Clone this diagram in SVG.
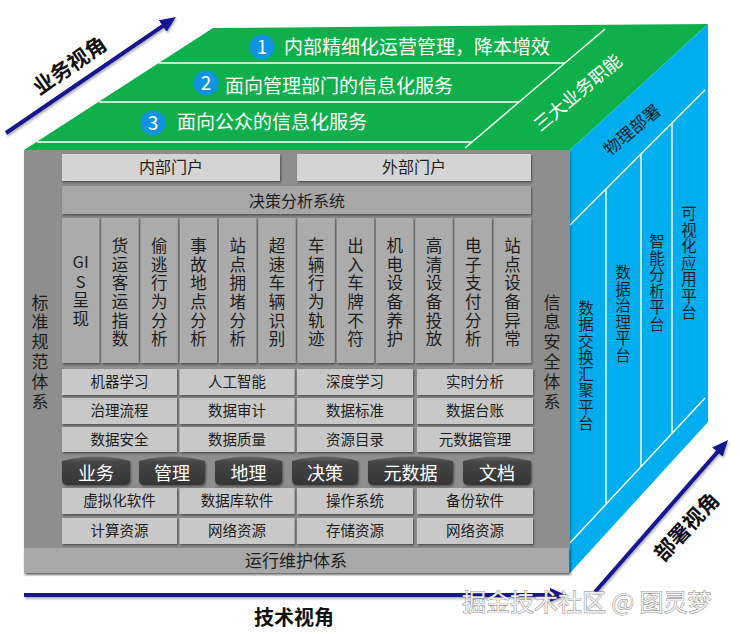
<svg xmlns="http://www.w3.org/2000/svg" width="740" height="634" viewBox="0 0 740 634">
<defs>
<style>
text{font-family:"Noto Sans CJK SC","Noto Sans",sans-serif;}
.c{text-anchor:middle;}
.v{writing-mode:vertical-rl;text-orientation:upright;text-anchor:middle;}
.wt{fill:#fff;}
.dk{fill:#1e1e1e;}
.tile{fill:#c8c8c8;filter:url(#sh);}
.ptile{fill:#d4d4d4;filter:url(#sh);}
.col{fill:#ababab;filter:url(#sh);}
.band{fill:#a7a7a7;filter:url(#sh);}
.cyl{fill:url(#cg);filter:url(#sh);}
.wl{stroke:#fff;stroke-width:1.4;fill:none;}
.arr{stroke:#14148f;stroke-width:4;fill:none;marker-end:url(#ah);}
.num{fill:#0f94e4;}
.f14{font-size:14.5px;}
.f16{font-size:16px;}
.ap{font-size:16.5px;letter-spacing:2.1px;}
.fr{font-size:15.5px;letter-spacing:1px;}
.side{font-size:17px;letter-spacing:2.8px;}
</style>
<filter id="sh" x="-10%" y="-10%" width="130%" height="140%">
<feDropShadow dx="1" dy="1.5" stdDeviation="0.8" flood-color="#000" flood-opacity="0.45"/>
</filter>
<filter id="ash" filterUnits="userSpaceOnUse" x="0" y="0" width="740" height="634">
<feDropShadow dx="1" dy="2" stdDeviation="1" flood-color="#000" flood-opacity="0.3"/>
</filter>
<linearGradient id="cg" x1="0" y1="0" x2="0" y2="1">
<stop offset="0" stop-color="#6a6a6a"/>
<stop offset="0.2" stop-color="#454545"/>
<stop offset="1" stop-color="#353535"/>
</linearGradient>
<marker id="ah" viewBox="0 0 16 14" refX="6" refY="7" markerWidth="16" markerHeight="14" orient="auto" markerUnits="userSpaceOnUse">
<path d="M0,0 L16,7 L0,14 Z" fill="#14148f"/>
</marker>
</defs>
<rect width="740" height="634" fill="#fff"/>

<!-- top face -->
<g id="top-face">
<polygon points="24,150 213,28 708,24 570,150" fill="#0fb04c"/>
<line class="wl" x1="159" y1="63" x2="565" y2="63"/>
<line class="wl" x1="99" y1="102" x2="519" y2="102"/>
<line class="wl" x1="37" y1="142" x2="472" y2="142"/>
<line class="wl" x1="605" y1="29" x2="465" y2="148"/>
</g>
<g id="goal-1">
<circle class="num" cx="262" cy="47" r="12.5"/>
<text class="c wt" x="262" y="54" font-size="19">1</text>
<text class="wt" x="284" y="54" font-size="19">内部精细化运营管理，降本增效</text>
</g>
<g id="goal-2">
<circle class="num" cx="206" cy="83" r="12.5"/>
<text class="c wt" x="206" y="90" font-size="19">2</text>
<text class="wt" x="225" y="93" font-size="19">面向管理部门的信息化服务</text>
</g>
<g id="goal-3">
<circle class="num" cx="153" cy="123" r="12.5"/>
<text class="c wt" x="153" y="130" font-size="19">3</text>
<text class="wt" x="177" y="129" font-size="19">面向公众的信息化服务</text>
</g>
<g id="three-functions">
<text class="c wt" font-size="18" transform="translate(578,93) rotate(-40)" y="6">三大业务职能</text>
</g>

<!-- right face -->
<g id="right-face">
<polygon points="570,150 708,24 708,422 570,573" fill="#00aeef"/>
<line class="wl" x1="705" y1="90" x2="570" y2="225"/>
<line class="wl" x1="606" y1="189" x2="606" y2="504"/>
<line class="wl" x1="641" y1="154" x2="641" y2="467"/>
<line class="wl" x1="672" y1="123" x2="672" y2="434"/>
<line class="wl" x1="705" y1="398" x2="568" y2="545"/>
<text class="c dk" font-size="17" transform="translate(632,130) rotate(-40)" y="6">物理部署</text>
</g>
<g id="platform-exchange"><text class="v dk fr" x="586" y="366">数据交换汇聚平台</text></g>
<g id="platform-governance"><text class="v dk fr" x="623" y="314">数据治理平台</text></g>
<g id="platform-analysis"><text class="v dk fr" x="657" y="283">智能分析平台</text></g>
<g id="platform-visual"><text class="v dk fr" x="689" y="263.5">可视化应用平台</text></g>

<!-- front face -->
<g id="front-face">
<rect x="24" y="150" width="546" height="423" fill="#8e8e8e" filter="url(#ash)"/>
</g>
<g id="standard-system"><text class="v dk side" x="40" y="353">标准规范体系</text></g>
<g id="security-system"><text class="v dk side" x="552" y="353">信息安全体系</text></g>
<g id="ops-system">
<rect x="24" y="548" width="545" height="25" fill="#a8a8a8" filter="url(#sh)"/>
<text class="c dk" font-size="17" x="296" y="566.5">运行维护体系</text>
</g>

<g id="portal-internal">
<rect class="ptile" x="62" y="154" width="218" height="27"/>
<text class="c dk f16" x="171" y="173">内部门户</text>
</g>
<g id="portal-external">
<rect class="ptile" x="297" y="154" width="234" height="27"/>
<text class="c dk f16" x="414" y="173">外部门户</text>
</g>
<g id="decision-system">
<rect class="band" x="62" y="186" width="469" height="28"/>
<text class="c dk f16" x="297" y="207">决策分析系统</text>
</g>

<g id="apps">
<g id="app-gis"><rect class="col" x="62" y="218" width="37.3" height="145"/>
<text class="c dk" font-size="16.5" x="80.65" y="267.5">GI</text>
<text class="v dk ap" x="80.65" y="301">S呈现</text></g>
<g id="app-2"><rect class="col" x="101.25" y="218" width="37.3" height="145"/><text class="v dk ap" x="119.9" y="293.5">货运客运指数</text></g>
<g id="app-3"><rect class="col" x="140.5" y="218" width="37.3" height="145"/><text class="v dk ap" x="159.15" y="293.5">偷逃行为分析</text></g>
<g id="app-4"><rect class="col" x="179.75" y="218" width="37.3" height="145"/><text class="v dk ap" x="198.4" y="293.5">事故地点分析</text></g>
<g id="app-5"><rect class="col" x="219" y="218" width="37.3" height="145"/><text class="v dk ap" x="237.65" y="293.5">站点拥堵分析</text></g>
<g id="app-6"><rect class="col" x="258.25" y="218" width="37.3" height="145"/><text class="v dk ap" x="276.9" y="293.5">超速车辆识别</text></g>
<g id="app-7"><rect class="col" x="297.5" y="218" width="37.3" height="145"/><text class="v dk ap" x="316.15" y="293.5">车辆行为轨迹</text></g>
<g id="app-8"><rect class="col" x="336.75" y="218" width="37.3" height="145"/><text class="v dk ap" x="355.4" y="293.5">出入车牌不符</text></g>
<g id="app-9"><rect class="col" x="376" y="218" width="37.3" height="145"/><text class="v dk ap" x="394.65" y="293.5">机电设备养护</text></g>
<g id="app-10"><rect class="col" x="415.25" y="218" width="37.3" height="145"/><text class="v dk ap" x="433.9" y="293.5">高清设备投放</text></g>
<g id="app-11"><rect class="col" x="454.5" y="218" width="37.3" height="145"/><text class="v dk ap" x="473.15" y="293.5">电子支付分析</text></g>
<g id="app-12"><rect class="col" x="493.75" y="218" width="37.3" height="145"/><text class="v dk ap" x="512.4" y="293.5">站点设备异常</text></g>
</g>

<g id="capabilities">
<g id="cap-ml"><rect class="tile" x="62" y="369" width="115" height="26"/><text class="c dk f14" x="119.5" y="387">机器学习</text></g>
<g id="cap-ai"><rect class="tile" x="179.5" y="369" width="115" height="26"/><text class="c dk f14" x="237" y="387">人工智能</text></g>
<g id="cap-dl"><rect class="tile" x="297" y="369" width="116" height="26"/><text class="c dk f14" x="355" y="387">深度学习</text></g>
<g id="cap-rt"><rect class="tile" x="417" y="369" width="116" height="26"/><text class="c dk f14" x="475" y="387">实时分析</text></g>
<g id="cap-flow"><rect class="tile" x="62" y="398" width="115" height="26"/><text class="c dk f14" x="119.5" y="416">治理流程</text></g>
<g id="cap-audit"><rect class="tile" x="179.5" y="398" width="115" height="26"/><text class="c dk f14" x="237" y="416">数据审计</text></g>
<g id="cap-std"><rect class="tile" x="297" y="398" width="116" height="26"/><text class="c dk f14" x="355" y="416">数据标准</text></g>
<g id="cap-ledger"><rect class="tile" x="417" y="398" width="116" height="26"/><text class="c dk f14" x="475" y="416">数据台账</text></g>
<g id="cap-sec"><rect class="tile" x="62" y="427" width="115" height="25"/><text class="c dk f14" x="119.5" y="444.5">数据安全</text></g>
<g id="cap-qual"><rect class="tile" x="179.5" y="427" width="115" height="25"/><text class="c dk f14" x="237" y="444.5">数据质量</text></g>
<g id="cap-cat"><rect class="tile" x="297" y="427" width="116" height="25"/><text class="c dk f14" x="355" y="444.5">资源目录</text></g>
<g id="cap-meta"><rect class="tile" x="417" y="427" width="116" height="25"/><text class="c dk f14" x="475" y="444.5">元数据管理</text></g>
</g>

<g id="databases">
<g id="db-biz"><path class="cyl" d="M62,461 Q96,452 130,461 L130,480 Q130,485 124,485 L68,485 Q62,485 62,480 Z"/><text class="c wt" font-size="18" x="96" y="480">业务</text></g>
<g id="db-mgmt"><path class="cyl" d="M139,461 Q172,452 205,461 L205,480 Q205,485 199,485 L145,485 Q139,485 139,480 Z"/><text class="c wt" font-size="18" x="172" y="480">管理</text></g>
<g id="db-geo"><path class="cyl" d="M215,461 Q248.5,452 282,461 L282,480 Q282,485 276,485 L221,485 Q215,485 215,480 Z"/><text class="c wt" font-size="18" x="248.5" y="480">地理</text></g>
<g id="db-dec"><path class="cyl" d="M292,461 Q325,452 358,461 L358,480 Q358,485 352,485 L298,485 Q292,485 292,480 Z"/><text class="c wt" font-size="18" x="325" y="480">决策</text></g>
<g id="db-meta"><path class="cyl" d="M368,461 Q410.5,452 453,461 L453,480 Q453,485 447,485 L374,485 Q368,485 368,480 Z"/><text class="c wt" font-size="18" x="410.5" y="480">元数据</text></g>
<g id="db-doc"><path class="cyl" d="M463,461 Q497,452 531,461 L531,480 Q531,485 525,485 L469,485 Q463,485 463,480 Z"/><text class="c wt" font-size="18" x="497" y="480">文档</text></g>
</g>

<g id="infrastructure">
<g id="sw-virt"><rect class="tile" x="62" y="488" width="115" height="26"/><text class="c dk f14" x="119.5" y="506">虚拟化软件</text></g>
<g id="sw-db"><rect class="tile" x="179.5" y="488" width="115" height="26"/><text class="c dk f14" x="237" y="506">数据库软件</text></g>
<g id="sw-os"><rect class="tile" x="297" y="488" width="116" height="26"/><text class="c dk f14" x="355" y="506">操作系统</text></g>
<g id="sw-bak"><rect class="tile" x="417" y="488" width="116" height="26"/><text class="c dk f14" x="475" y="506">备份软件</text></g>
<g id="res-cpu"><rect class="tile" x="62" y="518" width="115" height="26"/><text class="c dk f14" x="119.5" y="536">计算资源</text></g>
<g id="res-net1"><rect class="tile" x="179.5" y="518" width="115" height="26"/><text class="c dk f14" x="237" y="536">网络资源</text></g>
<g id="res-sto"><rect class="tile" x="297" y="518" width="116" height="26"/><text class="c dk f14" x="355" y="536">存储资源</text></g>
<g id="res-net2"><rect class="tile" x="417" y="518" width="116" height="26"/><text class="c dk f14" x="475" y="536">网络资源</text></g>
</g>

<g id="connectors" filter="url(#ash)">
<line class="arr" x1="6" y1="133" x2="167.7" y2="22.6"/>
<line class="arr" x1="24" y1="595" x2="556" y2="595"/>
<line class="arr" x1="595" y1="592" x2="721.4" y2="447.5"/>
</g>
<g id="label-business">
<text class="c" font-size="21" font-weight="bold" fill="#111" transform="translate(70,66) rotate(-35)" y="7">业务视角</text>
</g>
<g id="label-tech">
<text class="c" font-size="20" font-weight="bold" fill="#111" x="294" y="625">技术视角</text>
</g>
<g id="label-deploy">
<text class="c" font-size="21" font-weight="bold" fill="#111" transform="translate(687,527) rotate(-47)" y="7">部署视角</text>
</g>
<g id="watermark">
<text x="462" y="611" font-size="24" fill="#eeeeee" stroke="#7a7a7a" stroke-width="0.8" paint-order="stroke">掘金技术社区 @ 图灵梦</text>
</g>
</svg>
